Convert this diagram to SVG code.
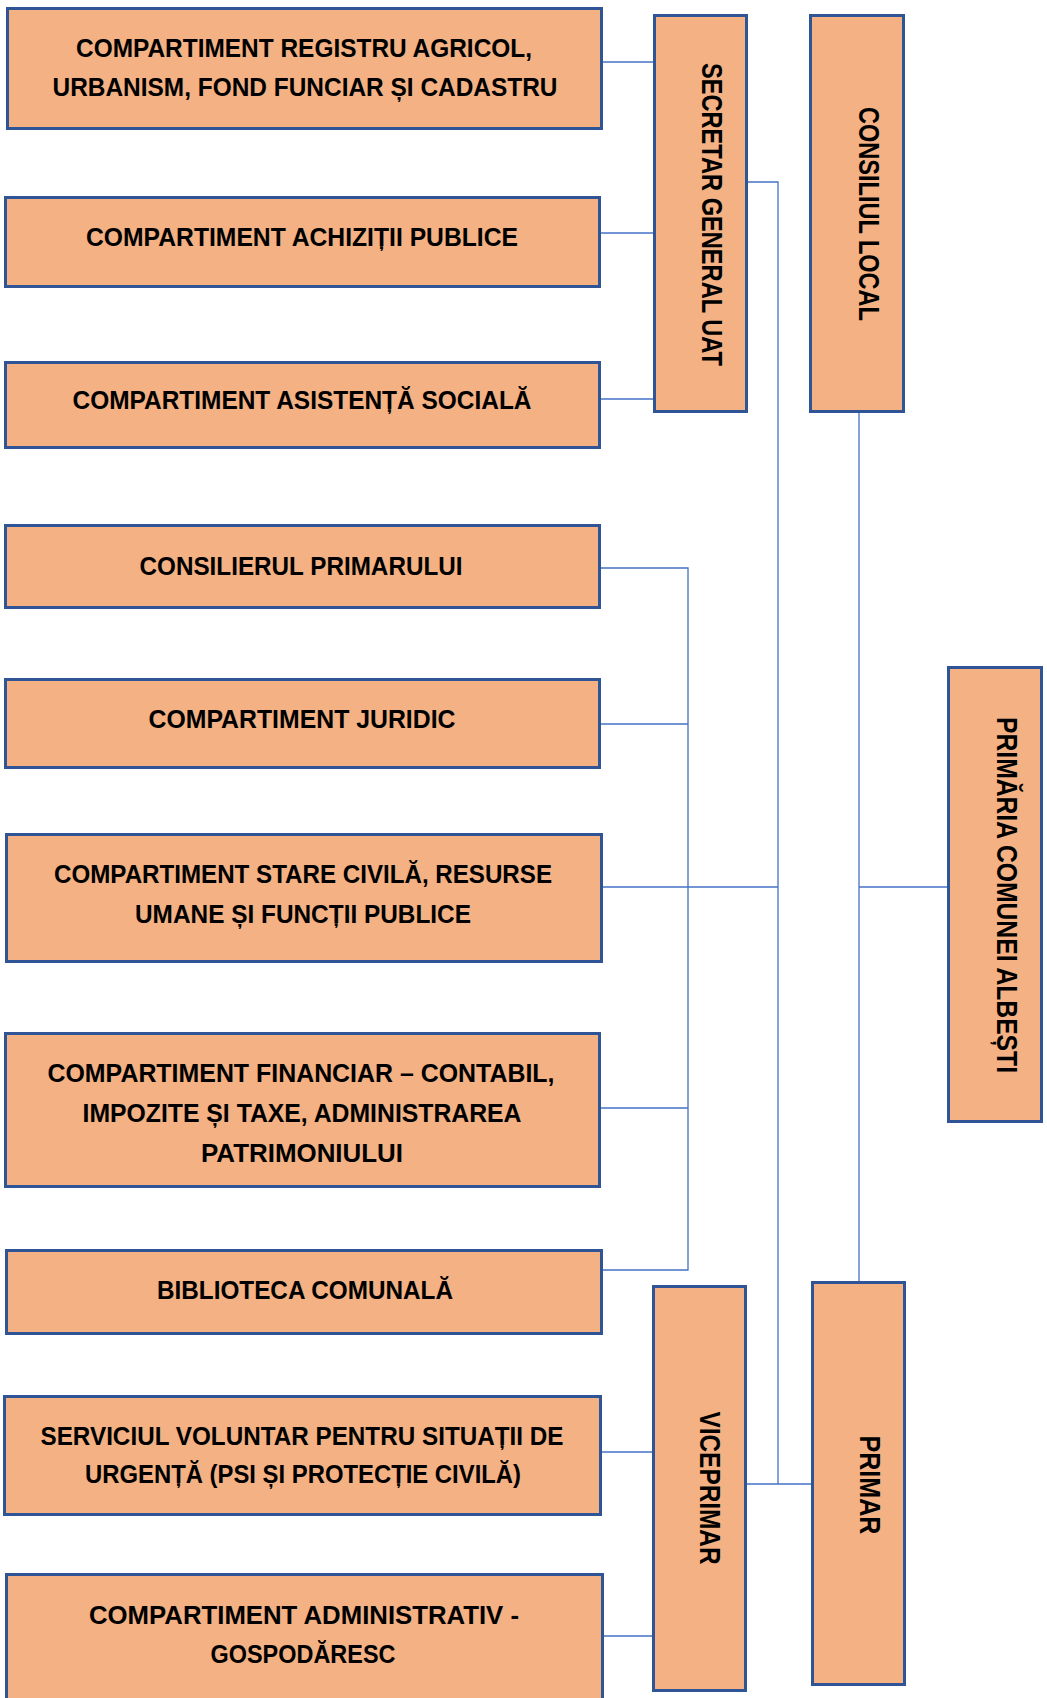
<svg xmlns="http://www.w3.org/2000/svg" width="1047" height="1698" viewBox="0 0 1047 1698">
<style>
.box{fill:#F4B183;stroke:#2F5597;stroke-width:3}
.t{font-family:"Liberation Sans",Arial,sans-serif;font-weight:bold;font-size:26px;fill:#000;text-anchor:middle}
.v{font-family:"Liberation Sans",Arial,sans-serif;font-weight:bold;font-size:29px;fill:#000;text-anchor:middle}
.c{fill:none;stroke:#4472C4;stroke-width:1.3}
</style>
<rect width="1047" height="1698" fill="#fff"/>
<g id="connectors">
<path class="c" d="M603,62 H654"/>
<path class="c" d="M601,233 H654"/>
<path class="c" d="M601,399 H654"/>
<path class="c" d="M748,182 H778 V1484"/>
<path class="c" d="M747,1484 H811"/>
<path class="c" d="M603,887 H778"/>
<path class="c" d="M601,568 H688 V1270 H603"/>
<path class="c" d="M601,724 H688"/>
<path class="c" d="M601,1108 H688"/>
<path class="c" d="M859,413 V1281"/>
<path class="c" d="M859,887 H947"/>
<path class="c" d="M602,1452 H652"/>
<path class="c" d="M604,1636 H652"/>
</g>
<g id="n-registru">
<rect class="box" x="7.5" y="8.5" width="594" height="120"/>
<text class="t" x="304" y="57" textLength="456" lengthAdjust="spacingAndGlyphs">COMPARTIMENT REGISTRU AGRICOL,</text>
<text class="t" x="305" y="96" textLength="505" lengthAdjust="spacingAndGlyphs">URBANISM, FOND FUNCIAR ȘI CADASTRU</text>
</g>
<g id="n-achizitii">
<rect class="box" x="5.5" y="197.5" width="594" height="89"/>
<text class="t" x="302" y="246" textLength="432" lengthAdjust="spacingAndGlyphs">COMPARTIMENT ACHIZIȚII PUBLICE</text>
</g>
<g id="n-asistenta">
<rect class="box" x="5.5" y="362.5" width="594" height="85"/>
<text class="t" x="302" y="409" textLength="459" lengthAdjust="spacingAndGlyphs">COMPARTIMENT ASISTENȚĂ SOCIALĂ</text>
</g>
<g id="n-consilierul">
<rect class="box" x="5.5" y="525.5" width="594" height="82"/>
<text class="t" x="301" y="575" textLength="323" lengthAdjust="spacingAndGlyphs">CONSILIERUL PRIMARULUI</text>
</g>
<g id="n-juridic">
<rect class="box" x="5.5" y="679.5" width="594" height="88"/>
<text class="t" x="302" y="728" textLength="307" lengthAdjust="spacingAndGlyphs">COMPARTIMENT JURIDIC</text>
</g>
<g id="n-stare-civila">
<rect class="box" x="6.5" y="834.5" width="595" height="127"/>
<text class="t" x="303" y="883" textLength="498" lengthAdjust="spacingAndGlyphs">COMPARTIMENT STARE CIVILĂ, RESURSE</text>
<text class="t" x="303" y="923" textLength="336" lengthAdjust="spacingAndGlyphs">UMANE ȘI FUNCȚII PUBLICE</text>
</g>
<g id="n-financiar">
<rect class="box" x="5.5" y="1033.5" width="594" height="153"/>
<text class="t" x="301" y="1082" textLength="507" lengthAdjust="spacingAndGlyphs">COMPARTIMENT FINANCIAR – CONTABIL,</text>
<text class="t" x="302" y="1122" textLength="439" lengthAdjust="spacingAndGlyphs">IMPOZITE ȘI TAXE, ADMINISTRAREA</text>
<text class="t" x="302" y="1162" textLength="202" lengthAdjust="spacingAndGlyphs">PATRIMONIULUI</text>
</g>
<g id="n-biblioteca">
<rect class="box" x="6.5" y="1250.5" width="595" height="83"/>
<text class="t" x="305" y="1299" textLength="296" lengthAdjust="spacingAndGlyphs">BIBLIOTECA COMUNALĂ</text>
</g>
<g id="n-serviciul">
<rect class="box" x="4.5" y="1396.5" width="596" height="118"/>
<text class="t" x="302" y="1445" textLength="523" lengthAdjust="spacingAndGlyphs">SERVICIUL VOLUNTAR PENTRU SITUAȚII DE</text>
<text class="t" x="303" y="1483" textLength="436" lengthAdjust="spacingAndGlyphs">URGENȚĂ (PSI ȘI PROTECȚIE CIVILĂ)</text>
</g>
<g id="n-administrativ">
<rect class="box" x="6.5" y="1574.5" width="596" height="130"/>
<text class="t" x="304" y="1624" textLength="430" lengthAdjust="spacingAndGlyphs">COMPARTIMENT ADMINISTRATIV -</text>
<text class="t" x="303" y="1663" textLength="185" lengthAdjust="spacingAndGlyphs">GOSPODĂRESC</text>
</g>
<g id="n-secretar">
<rect class="box" x="654.5" y="15.5" width="92" height="396"/>
<text class="v" transform="translate(702,214.5) rotate(90)" x="0" y="0" textLength="303" lengthAdjust="spacingAndGlyphs">SECRETAR GENERAL UAT</text>
</g>
<g id="n-consiliul">
<rect class="box" x="810.5" y="15.5" width="93" height="396"/>
<text class="v" transform="translate(859,214) rotate(90)" x="0" y="0" textLength="214" lengthAdjust="spacingAndGlyphs">CONSILIUL LOCAL</text>
</g>
<g id="n-primaria">
<rect class="box" x="948.5" y="667.5" width="93" height="454"/>
<text class="v" transform="translate(997,895) rotate(90)" x="0" y="0" textLength="356" lengthAdjust="spacingAndGlyphs">PRIMĂRIA COMUNEI ALBEȘTI</text>
</g>
<g id="n-viceprimar">
<rect class="box" x="653.5" y="1286.5" width="92" height="404"/>
<text class="v" transform="translate(700,1488) rotate(90)" x="0" y="0" textLength="153" lengthAdjust="spacingAndGlyphs">VICEPRIMAR</text>
</g>
<g id="n-primar">
<rect class="box" x="812.5" y="1282.5" width="92" height="402"/>
<text class="v" transform="translate(860,1485) rotate(90)" x="0" y="0" textLength="99" lengthAdjust="spacingAndGlyphs">PRIMAR</text>
</g>
</svg>
